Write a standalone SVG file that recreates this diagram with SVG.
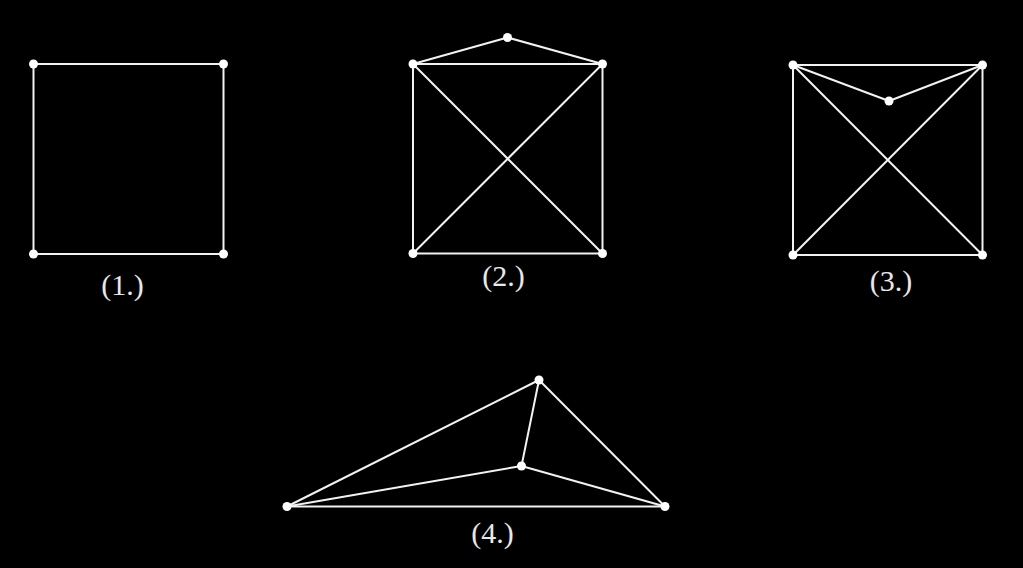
<svg xmlns="http://www.w3.org/2000/svg" width="1023" height="568" viewBox="0 0 1023 568">
<style>
.e{stroke:#f2f2f2;stroke-width:2;fill:none;stroke-linecap:round}
.n{fill:#ffffff}
.t{fill:#e8e8e8;font-family:"Liberation Serif",serif;font-size:30px;text-anchor:middle}
</style>
<rect width="1023" height="568" fill="#000"/>
<g id="connectors">
<g id="g1-edges">
<line class="e" x1="33.5" y1="64" x2="223.5" y2="64"/>
<line class="e" x1="33.5" y1="64" x2="33.5" y2="254"/>
<line class="e" x1="223.5" y1="64" x2="223.5" y2="254"/>
<line class="e" x1="33.5" y1="254" x2="223.5" y2="254"/>
</g>
<g id="g2-edges">
<line class="e" x1="413" y1="64" x2="602.5" y2="64"/>
<line class="e" x1="413" y1="64" x2="413" y2="253.5"/>
<line class="e" x1="602.5" y1="64" x2="602.5" y2="253.5"/>
<line class="e" x1="413" y1="253.5" x2="602.5" y2="253.5"/>
<line class="e" x1="413" y1="64" x2="602.5" y2="253.5"/>
<line class="e" x1="602.5" y1="64" x2="413" y2="253.5"/>
<line class="e" x1="413" y1="64" x2="507.5" y2="37.5"/>
<line class="e" x1="602.5" y1="64" x2="507.5" y2="37.5"/>
</g>
<g id="g3-edges">
<line class="e" x1="793" y1="65" x2="982.5" y2="65"/>
<line class="e" x1="793" y1="65" x2="793" y2="255"/>
<line class="e" x1="982.5" y1="65" x2="982.5" y2="255"/>
<line class="e" x1="793" y1="255" x2="982.5" y2="255"/>
<line class="e" x1="793" y1="65" x2="982.5" y2="255"/>
<line class="e" x1="982.5" y1="65" x2="793" y2="255"/>
<line class="e" x1="793" y1="65" x2="889" y2="101"/>
<line class="e" x1="982.5" y1="65" x2="889" y2="101"/>
</g>
<g id="g4-edges">
<line class="e" x1="287" y1="506.5" x2="665" y2="506.5"/>
<line class="e" x1="287" y1="506.5" x2="539" y2="380"/>
<line class="e" x1="539" y1="380" x2="665" y2="506.5"/>
<line class="e" x1="287" y1="506.5" x2="521.5" y2="466"/>
<line class="e" x1="521.5" y1="466" x2="665" y2="506.5"/>
<line class="e" x1="521.5" y1="466" x2="539" y2="380"/>
</g>
</g>
<g id="graph1">
<circle id="g1-a" class="n" cx="33.5" cy="64" r="4.5"/>
<circle id="g1-b" class="n" cx="223.5" cy="64" r="4.5"/>
<circle id="g1-c" class="n" cx="33.5" cy="254" r="4.5"/>
<circle id="g1-d" class="n" cx="223.5" cy="254" r="4.5"/>
<text class="t" x="122.5" y="295">(1.)</text>
</g>
<g id="graph2">
<circle id="g2-top" class="n" cx="507.5" cy="37.5" r="4.5"/>
<circle id="g2-a" class="n" cx="413" cy="64" r="4.5"/>
<circle id="g2-b" class="n" cx="602.5" cy="64" r="4.5"/>
<circle id="g2-c" class="n" cx="413" cy="253.5" r="4.5"/>
<circle id="g2-d" class="n" cx="602.5" cy="253.5" r="4.5"/>
<text class="t" x="503.5" y="286">(2.)</text>
</g>
<g id="graph3">
<circle id="g3-a" class="n" cx="793" cy="65" r="4.5"/>
<circle id="g3-b" class="n" cx="982.5" cy="65" r="4.5"/>
<circle id="g3-mid" class="n" cx="889" cy="101" r="4.5"/>
<circle id="g3-c" class="n" cx="793" cy="255" r="4.5"/>
<circle id="g3-d" class="n" cx="982.5" cy="255" r="4.5"/>
<text class="t" x="891" y="291">(3.)</text>
</g>
<g id="graph4">
<circle id="g4-top" class="n" cx="539" cy="380" r="4.5"/>
<circle id="g4-mid" class="n" cx="521.5" cy="466" r="4.5"/>
<circle id="g4-left" class="n" cx="287" cy="506.5" r="4.5"/>
<circle id="g4-right" class="n" cx="665" cy="506.5" r="4.5"/>
<text class="t" x="492.5" y="543">(4.)</text>
</g>
</svg>
